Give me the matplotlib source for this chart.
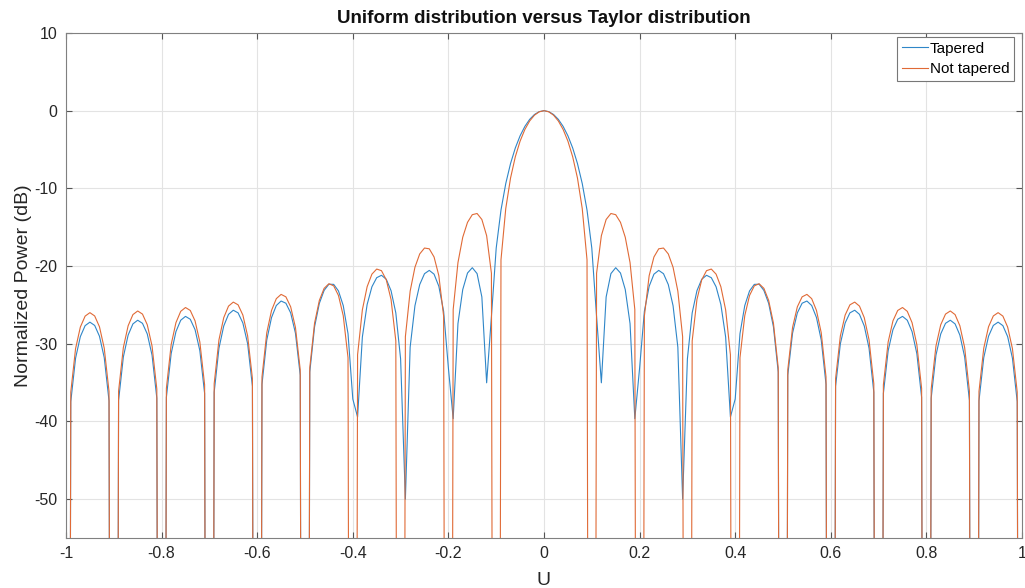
import numpy as np
import matplotlib
matplotlib.use("Agg")
import matplotlib.pyplot as plt

plt.rcParams['font.family'] = ['Liberation Sans', 'DejaVu Sans']

# sampling grid of U (-1 .. 1, step 0.01)
u = np.linspace(-1.0, 1.0, 201)

# Not tapered (uniform) normalized power, dB
not_tapered_left = [
    -300, -36.221, -30.633, -27.852, -26.440, -25.994, -26.418, -27.809, -30.568, -36.135,
    -300, -36.092, -30.482, -27.680, -26.245, -25.778, -26.180, -27.549, -30.285, -35.829,
    -300, -35.741, -30.108, -27.282, -25.825, -25.333, -25.712, -27.056, -29.768, -35.288,
    -300, -35.149, -29.490, -26.639, -25.154, -24.636, -24.987, -26.304, -28.988, -34.479,
    -300, -34.280, -28.591, -25.709, -24.193, -23.642, -23.960, -25.242, -27.891, -33.346,
    -300, -33.073, -27.345, -24.422, -22.865, -22.272, -22.545, -23.783, -26.385, -31.791,
    -300, -31.416, -25.633, -22.654, -21.038, -20.383, -20.592, -21.763, -24.294, -29.626,
    -300, -29.090, -23.221, -20.150, -18.436, -17.678, -17.777, -18.829, -21.235, -26.431,
    -300, -25.590, -19.549, -16.290, -14.370, -13.385, -13.232, -14.003, -16.091, -20.928,
    -300, -19.200, -12.598, -8.669, -5.930, -3.914, -2.415, -1.324, -0.579, -0.144,
]
not_tapered_center = [0.0]
not_tapered_right = [
    -0.144, -0.579, -1.324, -2.415, -3.914, -5.930, -8.669, -12.598, -19.200, -300,
    -20.928, -16.091, -14.003, -13.232, -13.385, -14.370, -16.290, -19.549, -25.590, -300,
    -26.431, -21.235, -18.829, -17.777, -17.678, -18.436, -20.150, -23.221, -29.090, -300,
    -29.626, -24.294, -21.763, -20.592, -20.383, -21.038, -22.654, -25.633, -31.416, -300,
    -31.791, -26.385, -23.783, -22.545, -22.272, -22.865, -24.422, -27.345, -33.073, -300,
    -33.346, -27.891, -25.242, -23.960, -23.642, -24.193, -25.709, -28.591, -34.280, -300,
    -34.479, -28.988, -26.304, -24.987, -24.636, -25.154, -26.639, -29.490, -35.149, -300,
    -35.288, -29.768, -27.056, -25.712, -25.333, -25.825, -27.282, -30.108, -35.741, -300,
    -35.829, -30.285, -27.549, -26.180, -25.778, -26.245, -27.680, -30.482, -36.092, -300,
    -36.135, -30.568, -27.809, -26.418, -25.994, -26.440, -27.852, -30.633, -36.221, -300,
]

# Tapered (Taylor) normalized power, dB
tapered_left = [
    -300, -37.455, -31.865, -29.081, -27.667, -27.218, -27.640, -29.028, -31.784, -37.349,
    -300, -37.300, -31.686, -28.880, -27.441, -26.970, -27.368, -28.733, -31.465, -37.005,
    -300, -36.907, -31.268, -28.436, -26.972, -26.474, -26.847, -28.184, -30.889, -36.402,
    -300, -36.243, -30.571, -27.709, -26.212, -25.682, -26.021, -27.325, -29.996, -35.473,
    -300, -35.236, -29.524, -26.618, -25.075, -24.499, -24.780, -26.022, -28.631, -34.039,
    -300, -33.638, -27.825, -24.798, -23.131, -22.335, -22.355, -23.200, -25.089, -28.701,
    -37.107, -39.429, -29.131, -24.941, -22.663, -21.495, -21.186, -21.698, -23.162, -26.031,
    -31.942, -50.000, -30.424, -25.103, -22.378, -20.980, -20.555, -21.041, -22.600, -25.809,
    -33.123, -39.644, -27.403, -23.022, -20.893, -20.209, -20.968, -23.975, -35.025, -26.505,
    -17.688, -12.794, -9.377, -6.800, -4.797, -3.230, -2.020, -1.117, -0.492, -0.123,
]
tapered_center = [0.0]
tapered_right = [
    -0.123, -0.492, -1.117, -2.020, -3.230, -4.797, -6.800, -9.377, -12.794, -17.688,
    -26.505, -35.025, -23.975, -20.968, -20.209, -20.893, -23.022, -27.403, -39.644, -33.123,
    -25.809, -22.600, -21.041, -20.555, -20.980, -22.378, -25.103, -30.424, -50.000, -31.942,
    -26.031, -23.162, -21.698, -21.186, -21.495, -22.663, -24.941, -29.131, -39.429, -37.107,
    -28.701, -25.089, -23.200, -22.355, -22.335, -23.131, -24.798, -27.825, -33.638, -300,
    -34.039, -28.631, -26.022, -24.780, -24.499, -25.075, -26.618, -29.524, -35.236, -300,
    -35.473, -29.996, -27.325, -26.021, -25.682, -26.212, -27.709, -30.571, -36.243, -300,
    -36.402, -30.889, -28.184, -26.847, -26.474, -26.972, -28.436, -31.268, -36.907, -300,
    -37.005, -31.465, -28.733, -27.368, -26.970, -27.441, -28.880, -31.686, -37.300, -300,
    -37.349, -31.784, -29.028, -27.640, -27.218, -27.667, -29.081, -31.865, -37.455, -300,
]

tapered = np.array(tapered_left + tapered_center + tapered_right)
not_tapered = np.array(not_tapered_left + not_tapered_center + not_tapered_right)

x_ticks = [-1, -0.8, -0.6, -0.4, -0.2, 0, 0.2, 0.4, 0.6, 0.8, 1]
x_tick_labels = ['-1', '-0.8', '-0.6', '-0.4', '-0.2', '0', '0.2', '0.4', '0.6', '0.8', '1']
y_ticks = [-50, -40, -30, -20, -10, 0, 10]
y_tick_labels = ['-50', '-40', '-30', '-20', '-10', '0', '10']

fig = plt.figure(figsize=(10.25, 5.88), dpi=100)
ax = fig.add_axes([66 / 1025, 50 / 588, (1022 - 66) / 1025, (538 - 33) / 588])

ax.plot(u, tapered, color='#2f86c8', lw=0.8, label='Tapered')
ax.plot(u, not_tapered, color='#e06a36', lw=0.8, label='Not tapered')

ax.set_xlim(-1, 1)
ax.set_ylim(-55, 10)
ax.set_xticks(x_ticks)
ax.set_xticklabels(x_tick_labels)
ax.set_yticks(y_ticks)
ax.set_yticklabels(y_tick_labels)
ax.grid(True, color='#e3e3e3', lw=0.8)
ax.set_axisbelow(True)
ax.tick_params(direction='in', length=4, width=0.8, colors='#555555', labelcolor='#262626',
               labelsize=11.5, top=True, right=True, pad=6)
for s in ax.spines.values():
    s.set_color('#808080')
    s.set_linewidth(0.8)

ax.set_title('Uniform distribution versus Taylor distribution', fontsize=13.5,
             fontweight='bold', color='#111111', pad=7)
ax.set_xlabel('U', fontsize=14, color='#262626', labelpad=8)
ax.set_ylabel('Normalized Power (dB)', fontsize=14, color='#262626', labelpad=2)

leg = ax.legend(loc='upper right', bbox_to_anchor=((1014 - 66) / 956, 1 - 4 / 505),
                fontsize=11, frameon=True, fancybox=False,
                edgecolor='#777777', framealpha=1, borderaxespad=0.0,
                handlelength=1.75, handletextpad=0.1, borderpad=0.3, labelspacing=0.45)
leg.get_frame().set_linewidth(0.8)

fig.savefig('out.png', dpi=100)
